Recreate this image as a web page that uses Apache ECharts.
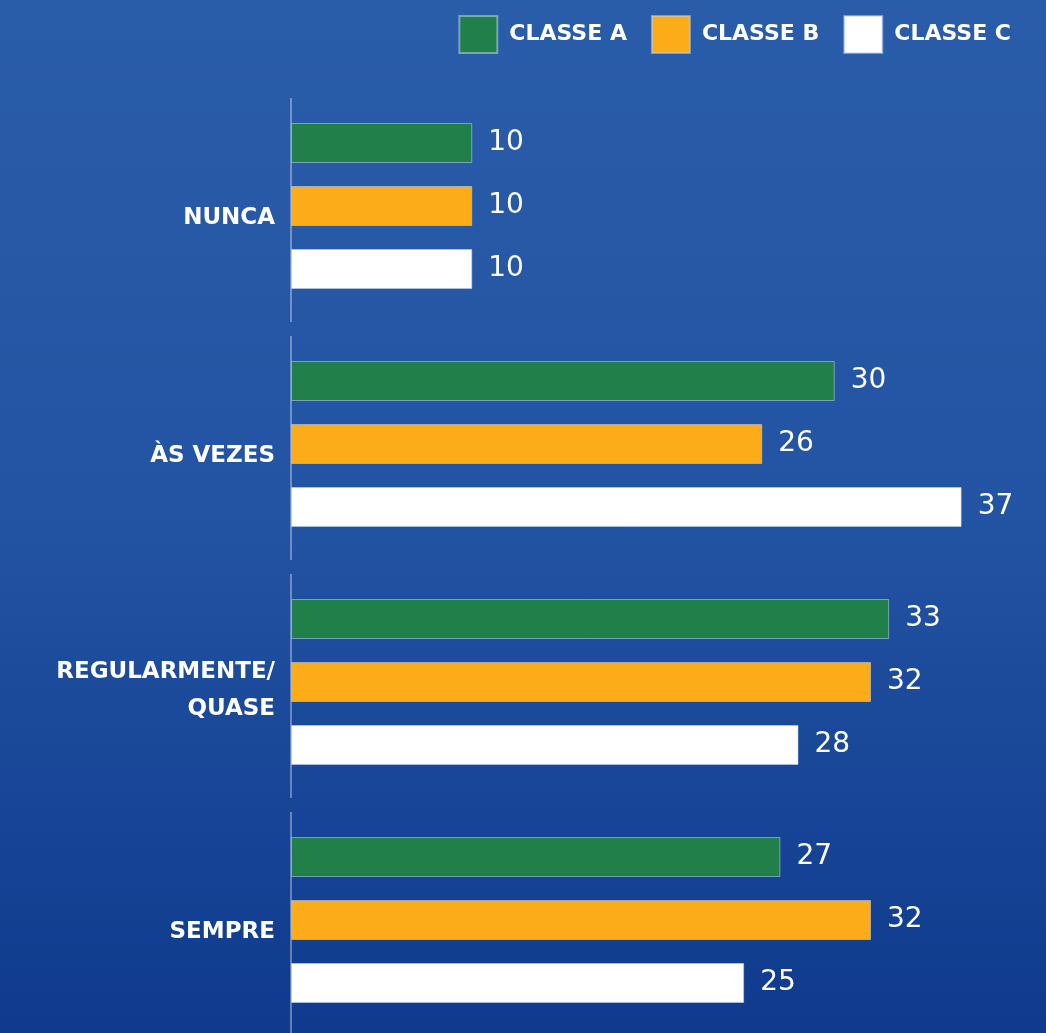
<!DOCTYPE html>
<html>
<head>
<meta charset="utf-8">
<script src="https://cdn.jsdelivr.net/npm/echarts@6/dist/echarts.min.js"></script>
<style>
  html, body { margin: 0; padding: 0; background: #1d4a9c; }
  #barchart { width: 1046px; height: 1033px; }
</style>
</head>
<body>
<div id="barchart"></div>
<script>
// dados do gráfico
var categorias = ['NUNCA', 'ÀS VEZES', 'REGULARMENTE/\nQUASE', 'SEMPRE'];
var classes = ['CLASSE A', 'CLASSE B', 'CLASSE C'];
var classeA = [10, 30, 33, 27];
var classeB = [10, 26, 32, 32];
var classeC = [10, 37, 28, 25];
var cores = ['#21804a', '#fbac18', '#ffffff'];

(function() {
    var myChart = echarts.init(document.getElementById('barchart'));
    var fonte = 'DejaVu Sans';
    var valores = [classeA, classeB, classeC];

    var series = classes.map(function(nome, i) {
        return {
            name: nome,
            type: 'bar',
            barWidth: 40,
            barGap: '57.5%',
            data: valores[i],
            itemStyle: {
                color: cores[i],
                borderColor: 'rgba(190,210,240,0.55)',
                borderWidth: 1
            },
            label: {
                show: true,
                position: 'right',
                distance: 16,
                color: '#ffffff',
                fontFamily: fonte,
                fontSize: 28
            }
        };
    });

    // linha do eixo interrompida entre os grupos
    series.push({
        type: 'custom',
        name: 'eixo',
        silent: true,
        data: categorias.map(function(c, i) { return [0, i]; }),
        encode: { x: 0, y: 1 },
        renderItem: function(params, api) {
            var p = api.coord([0, api.value(1)]);
            var h = api.size([0, 1])[1];
            return {
                type: 'line',
                shape: { x1: p[0], y1: p[1] - h / 2 + 11, x2: p[0], y2: p[1] + h / 2 - 3 },
                style: { stroke: 'rgba(255,255,255,0.35)', lineWidth: 2 }
            };
        },
        z: 1
    });

    var estiloRotulo = { color: '#fff', fontFamily: fonte, fontWeight: 'bold', fontSize: 23, lineHeight: 37 };

    var option = {
        backgroundColor: {
            type: 'linear', x: 0, y: 0, x2: 0, y2: 1,
            colorStops: [
                { offset: 0, color: '#2a5da9' },
                { offset: 0.5, color: '#2353a3' },
                { offset: 1, color: '#0f3a8d' }
            ]
        },
        animation: false,
        legend: {
            data: classes,
            top: 10,
            right: 30,
            itemWidth: 38,
            itemHeight: 37,
            itemGap: 24,
            icon: 'rect',
            textStyle: { color: '#ffffff', fontFamily: fonte, fontWeight: 'bold', fontSize: 22, padding: [0, 0, 0, 7] }
        },
        grid: { left: 291, right: 30, top: 87, height: 952, outerBoundsMode: 'none' },
        xAxis: {
            type: 'value',
            min: 0,
            max: 40,
            show: false
        },
        yAxis: {
            type: 'category',
            inverse: true,
            data: categorias,
            axisLine: { show: false },
            axisTick: { show: false },
            axisLabel: {
                margin: 16,
                formatter: function(v) {
                    var linhas = v.split('\n');
                    if (linhas.length === 1) return '{a|' + v + '}';
                    return '{b|' + linhas[0] + '}\n{b|' + linhas[1] + '}';
                },
                rich: {
                    a: Object.assign({ padding: [24, 0, 0, 0] }, estiloRotulo),
                    b: Object.assign({ padding: [17, 0, 0, 0] }, estiloRotulo)
                }
            }
        },
        series: series
    };
    myChart.setOption(option);
})();
</script>
</body>
</html>
